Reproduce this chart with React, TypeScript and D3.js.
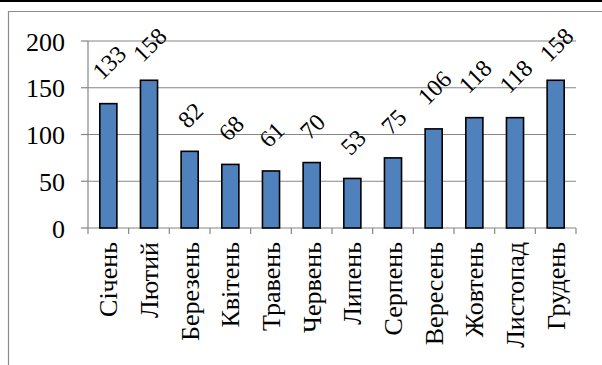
import React from "react";
import * as d3 from "d3";

const months = ["Січень", "Лютий", "Березень", "Квітень", "Травень", "Червень", "Липень", "Серпень", "Вересень", "Жовтень", "Листопад", "Грудень"];
const values = [133, 158, 82, 68, 61, 70, 53, 75, 106, 118, 118, 158];
const yTicks = [0, 50, 100, 150, 200];

export default function App() {
  const W = 602, H = 365;
  const left = 88, right = 576, top = 41, bottom = 228;
  const x = d3.scaleBand<string>().domain(months).range([left, right]).padding(0);
  const y = d3.scaleLinear().domain([0, 200]).range([bottom, top]);
  const bw = x.bandwidth();
  const barW = bw * 0.42;
  const ts = { fontFamily: '"Liberation Serif"' };
  const grid = "#868686";

  return (
    <svg width={W} height={H} style={{ position: "absolute", left: 0, top: 0, background: "#fff" }}>
      <rect x={0} y={0} width={W} height={H} fill="#fff" />
      <line x1={0} x2={W} y1={1} y2={1} stroke="#000" strokeWidth={2} />
      <path d={`M8.5,${H + 2} V11.5 H${W + 2}`} fill="none" stroke="#8c8c8c" strokeWidth={1.2} />
      {yTicks.map((t) => (
        <g key={t}>
          {t > 0 && <line x1={left} x2={right} y1={y(t)} y2={y(t)} stroke={grid} strokeWidth={1.2} />}
          <line x1={left - 7} x2={left} y1={y(t)} y2={y(t)} stroke={grid} strokeWidth={1.2} />
          <text x={65} y={y(t) + 9.5} textAnchor="end" style={ts} fontSize={26} fill="#000">{t}</text>
        </g>
      ))}
      <line x1={left} x2={left} y1={top} y2={bottom} stroke={grid} strokeWidth={1.2} />
      <line x1={left} x2={right} y1={bottom} y2={bottom} stroke={grid} strokeWidth={1.2} />
      {[...months.map((m) => x(m) as number), right].map((xx, i) => (
        <line key={i} x1={xx} x2={xx} y1={bottom} y2={bottom + 6} stroke={grid} strokeWidth={1.2} />
      ))}
      {months.map((m, i) => {
        const cx = (x(m) as number) + bw / 2;
        const v = values[i];
        const yt = y(v);
        const label = String(v);
        const off = 26 + 5 * label.length;
        const cy = Math.max(yt - off, 45);
        return (
          <g key={m}>
            <rect x={cx - barW / 2} y={yt} width={barW} height={bottom - yt} fill="#4F81BD" stroke="#000" strokeWidth={1.6} />
            <text transform={`translate(${cx + 1},${cy}) rotate(-45)`} textAnchor="middle" dy="0.33em" style={ts} fontSize={24} fill="#000">{label}</text>
            <text transform={`translate(${cx + 9},242) rotate(-90)`} textAnchor="end" style={ts} fontSize={26} fill="#000">{m}</text>
          </g>
        );
      })}
    </svg>
  );
}
